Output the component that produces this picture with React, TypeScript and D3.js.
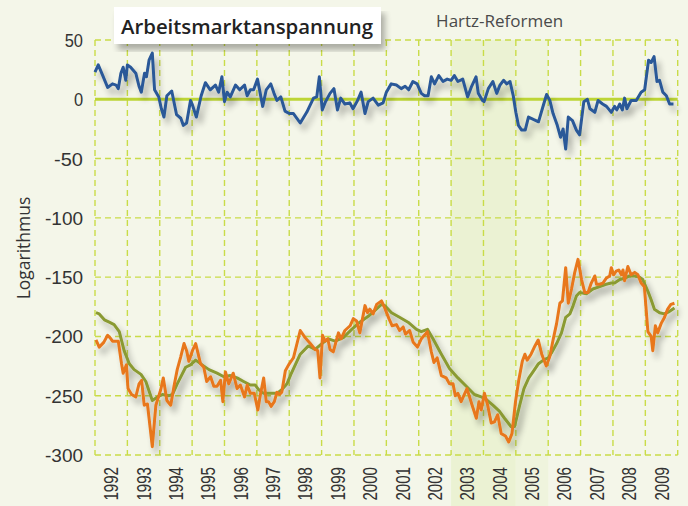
import * as d3 from 'd3';

const W = 688;
const H = 506;

const years = d3.range(1992, 2010);
const yTicks = [50, 0, -50, -100, -150, -200, -250, -300];
const hartzSpan = [2003, 2006];

// [year, value]
const blueData: [number, number][] = [
  [1992.00, 23], [1992.10, 29], [1992.24, 20], [1992.39, 10], [1992.54, 13], [1992.65, 12], [1992.72, 9],
  [1992.80, 22], [1992.87, 27], [1992.95, 16], [1993.00, 29], [1993.10, 27], [1993.26, 22], [1993.36, 11],
  [1993.43, 6], [1993.53, 22], [1993.59, 19], [1993.67, 33], [1993.77, 39], [1993.84, 8], [1993.97, 2],
  [1994.05, -8], [1994.13, -15], [1994.22, 3], [1994.37, 7], [1994.52, -13], [1994.65, -16], [1994.73, -22],
  [1994.83, -20], [1994.95, -1], [1995.00, -4], [1995.13, -15], [1995.28, 3], [1995.41, 14], [1995.56, 8],
  [1995.72, 12], [1995.82, 6], [1995.92, 19], [1996.00, -2], [1996.08, 6], [1996.18, 2], [1996.34, 12],
  [1996.47, 8], [1996.62, 12], [1996.70, 3], [1996.80, 8], [1996.90, 8], [1997.02, 17], [1997.18, -6],
  [1997.29, 8], [1997.43, 13], [1997.53, 5], [1997.62, -1], [1997.74, 2], [1997.87, -10], [1998.00, -12],
  [1998.13, -12], [1998.34, -20], [1998.54, -11], [1998.75, 1], [1998.85, 2], [1998.93, 19], [1999.02, -9],
  [1999.12, -2], [1999.26, 5], [1999.38, 9], [1999.49, -9], [1999.59, 1], [1999.72, -4], [1999.87, -3],
  [1999.97, -8], [2000.11, -1], [2000.22, 6], [2000.34, -12], [2000.44, -2], [2000.59, 1], [2000.75, -5],
  [2000.90, -3], [2001.00, 6], [2001.15, 13], [2001.31, 12], [2001.46, 9], [2001.58, 11], [2001.69, 8],
  [2001.82, 15], [2001.95, 13], [2002.08, 5], [2002.18, 3], [2002.29, 3], [2002.39, 19], [2002.49, 13],
  [2002.62, 20], [2002.75, 15], [2002.88, 17], [2003.00, 16], [2003.10, 20], [2003.21, 15], [2003.36, 17],
  [2003.51, 2], [2003.62, 10], [2003.77, 19], [2003.84, 5], [2003.97, -1], [2004.02, -2], [2004.15, 9],
  [2004.29, 15], [2004.41, 5], [2004.51, 12], [2004.62, 16], [2004.72, 13], [2004.82, 15], [2004.92, 3],
  [2005.00, -11], [2005.08, -22], [2005.18, -26], [2005.29, -26], [2005.39, -15], [2005.54, -17], [2005.70, -19],
  [2005.85, -5], [2005.95, 4], [2006.05, -1], [2006.15, -12], [2006.28, -22], [2006.38, -32], [2006.46, -25],
  [2006.54, -42], [2006.62, -15], [2006.75, -18], [2006.87, -26], [2006.97, -30], [2007.10, -2], [2007.21, 0],
  [2007.29, -8], [2007.44, -11], [2007.54, -1], [2007.68, -4], [2007.80, -6], [2007.95, -11], [2008.05, -6],
  [2008.12, -9], [2008.21, -4], [2008.29, -9], [2008.36, 1], [2008.43, -8], [2008.56, -1], [2008.72, -1],
  [2008.87, 6], [2008.98, 8], [2009.10, 33], [2009.18, 31], [2009.27, 36], [2009.36, 15], [2009.44, 16],
  [2009.54, 6], [2009.65, 3], [2009.75, -4], [2009.87, -4],
];

const orangeData: [number, number][] = [
  [1992.03, -203], [1992.13, -209], [1992.27, -205], [1992.39, -199], [1992.49, -202], [1992.54, -204],
  [1992.72, -204], [1992.82, -223], [1992.87, -231], [1992.97, -224], [1993.02, -244], [1993.13, -249],
  [1993.26, -251], [1993.36, -240], [1993.44, -237], [1993.52, -258], [1993.62, -257], [1993.77, -293],
  [1993.88, -258], [1994.03, -245], [1994.11, -235], [1994.22, -254], [1994.34, -258], [1994.44, -242],
  [1994.54, -228], [1994.65, -217], [1994.75, -206], [1994.83, -212], [1994.90, -221], [1995.01, -212],
  [1995.11, -206], [1995.26, -223], [1995.36, -226], [1995.45, -238], [1995.57, -234], [1995.67, -242],
  [1995.77, -242], [1995.88, -237], [1995.95, -255], [1996.03, -230], [1996.13, -240], [1996.27, -231],
  [1996.39, -244], [1996.49, -241], [1996.62, -251], [1996.70, -241], [1996.80, -248], [1996.92, -248],
  [1997.03, -262], [1997.11, -249], [1997.21, -235], [1997.29, -255], [1997.36, -255], [1997.44, -259],
  [1997.54, -255], [1997.62, -247], [1997.70, -249], [1997.77, -247], [1997.88, -229], [1997.98, -224],
  [1998.13, -218], [1998.34, -195], [1998.49, -201], [1998.65, -206], [1998.80, -211], [1998.88, -212],
  [1998.95, -235], [1999.03, -199], [1999.11, -204], [1999.19, -202], [1999.26, -211], [1999.36, -213],
  [1999.52, -197], [1999.60, -202], [1999.72, -195], [1999.88, -191], [1999.98, -185], [2000.08, -187],
  [2000.18, -197], [2000.34, -174], [2000.42, -180], [2000.49, -177], [2000.59, -181], [2000.70, -173],
  [2000.85, -170], [2000.95, -176], [2001.08, -185], [2001.18, -191], [2001.31, -190], [2001.41, -195],
  [2001.52, -192], [2001.59, -198], [2001.72, -195], [2001.83, -205], [2001.96, -209], [2002.08, -202],
  [2002.27, -196], [2002.39, -213], [2002.47, -222], [2002.57, -218], [2002.70, -233], [2002.85, -235],
  [2002.95, -240], [2003.06, -240], [2003.13, -250], [2003.21, -248], [2003.31, -255], [2003.49, -244],
  [2003.65, -258], [2003.78, -269], [2003.86, -255], [2003.93, -262], [2004.03, -248], [2004.13, -258],
  [2004.24, -273], [2004.34, -272], [2004.44, -266], [2004.55, -282], [2004.68, -284], [2004.78, -289],
  [2004.88, -282], [2004.99, -255], [2005.09, -237], [2005.20, -221], [2005.28, -215], [2005.35, -220],
  [2005.47, -215], [2005.59, -208], [2005.69, -203], [2005.80, -215], [2005.94, -225], [2006.05, -217],
  [2006.15, -203], [2006.26, -189], [2006.36, -172], [2006.44, -170], [2006.54, -142], [2006.62, -172],
  [2006.72, -160], [2006.82, -146], [2006.92, -135], [2007.03, -152], [2007.13, -163], [2007.23, -163],
  [2007.33, -155], [2007.44, -149], [2007.49, -156], [2007.59, -156], [2007.69, -155], [2007.79, -151],
  [2007.90, -149], [2007.95, -142], [2008.02, -148], [2008.10, -145], [2008.18, -144], [2008.26, -148],
  [2008.31, -144], [2008.36, -153], [2008.46, -141], [2008.56, -148], [2008.67, -146], [2008.77, -148],
  [2008.87, -155], [2008.97, -158], [2009.08, -196], [2009.18, -200], [2009.23, -212], [2009.31, -191],
  [2009.38, -197], [2009.49, -189], [2009.59, -184], [2009.69, -177], [2009.79, -173], [2009.90, -172],
];

const greenData: [number, number][] = [
  [1992.03, -180], [1992.13, -181], [1992.29, -186], [1992.44, -188], [1992.59, -190], [1992.75, -196],
  [1992.90, -212], [1993.06, -223], [1993.21, -228], [1993.42, -232], [1993.57, -238], [1993.77, -254],
  [1993.93, -251], [1994.08, -249], [1994.29, -250], [1994.39, -249], [1994.54, -240], [1994.80, -226],
  [1994.95, -224], [1995.11, -220], [1995.31, -224], [1995.52, -228], [1995.77, -231], [1995.98, -234],
  [1996.18, -233], [1996.39, -235], [1996.59, -238], [1996.80, -241], [1996.95, -241], [1997.06, -245],
  [1997.21, -248], [1997.42, -248], [1997.62, -248], [1997.77, -245], [1997.93, -240], [1998.05, -232],
  [1998.34, -215], [1998.59, -208], [1998.80, -211], [1999.01, -206], [1999.21, -202], [1999.42, -204],
  [1999.67, -201], [1999.93, -194], [2000.18, -188], [2000.44, -183], [2000.65, -178], [2000.85, -173],
  [2000.95, -174], [2001.16, -180], [2001.42, -184], [2001.67, -188], [2001.93, -194], [2002.08, -196],
  [2002.27, -194], [2002.44, -202], [2002.70, -215], [2002.95, -227], [2003.21, -235], [2003.47, -242],
  [2003.72, -249], [2003.93, -251], [2004.08, -253], [2004.29, -258], [2004.49, -263], [2004.65, -269],
  [2004.85, -276], [2004.96, -276], [2005.11, -259], [2005.25, -244], [2005.40, -235], [2005.55, -229],
  [2005.70, -223], [2005.85, -220], [2006.00, -218], [2006.10, -214], [2006.26, -206], [2006.41, -197],
  [2006.54, -184], [2006.67, -181], [2006.77, -174], [2006.87, -166], [2006.97, -163], [2007.18, -164],
  [2007.38, -160], [2007.59, -158], [2007.79, -156], [2007.95, -155], [2008.05, -155], [2008.21, -152],
  [2008.36, -151], [2008.51, -149], [2008.67, -149], [2008.82, -150], [2008.92, -152], [2009.08, -162],
  [2009.18, -169], [2009.28, -177], [2009.44, -180], [2009.59, -181], [2009.74, -179], [2009.90, -176],
];

const x = d3.scaleLinear([1992, 2010], [95, 677.7]);
const y = d3.scaleLinear([-300, 50], [455, 40]);

const line = d3.line<[number, number]>().x(d => x(d[0])).y(d => y(d[1]));

const grid = '#c9dc48';
const numFont = '"Liberation Sans", Arial, sans-serif';
const textFont = '"Open Sans", "Noto Sans", sans-serif';

// narrow digits like the original condensed font
const labelWidth = (s: string, size: number) =>
  s.replace('-', '').length * 0.48 * size + (s.startsWith('-') ? 0.56 * size : 0);

export default function App() {
  return (
    <svg width={W} height={H} style={{ position: 'absolute', left: 0, top: 0 }}>
      <defs>
        <filter id="shadow" x="-5%" y="-5%" width="115%" height="125%">
          <feGaussianBlur in="SourceAlpha" stdDeviation="3" />
          <feOffset dx="4" dy="6" result="b" />
          <feComponentTransfer>
            <feFuncA type="linear" slope="0.3" />
          </feComponentTransfer>
          <feMerge>
            <feMergeNode />
            <feMergeNode in="SourceGraphic" />
          </feMerge>
        </filter>
      </defs>
      <rect width={W} height={H} fill="#f4f6e9" />

      {/* Hartz-Reformen band */}
      <rect x={x(hartzSpan[0])} y={y(50)} width={x(2005) - x(hartzSpan[0])} height={H - y(50)} fill="#ebf2d3" />
      <rect x={x(2005)} y={y(50)} width={x(hartzSpan[1]) - x(2005)} height={H - y(50)} fill="#eff4dd" />
      <text x={(x(hartzSpan[0]) + x(hartzSpan[1])) / 2} y={27} textAnchor="middle"
        fontFamily={textFont} fontSize={17} fill="#4a4a4a">Hartz-Reformen</text>

      {/* grid */}
      {years.concat([2010]).map(yr => (
        <line key={yr} x1={x(yr)} x2={x(yr)} y1={y(50)} y2={y(-300)}
          stroke={grid} strokeWidth={1.4} strokeDasharray="6,4" />
      ))}
      {yTicks.filter(v => v !== 0).map(v => (
        <line key={v} x1={x(1992)} x2={x(2010)} y1={y(v)} y2={y(v)}
          stroke={grid} strokeWidth={1.4} strokeDasharray="6,4" />
      ))}
      <line x1={x(1992)} x2={x(2010)} y1={y(0)} y2={y(0)} stroke="#bdd535" strokeWidth={3} />

      {/* y ticks */}
      {yTicks.map(v => {
        const s = String(v);
        return (
          <text key={v} x={83} y={y(v) + 7} textAnchor="end" fontFamily={numFont} fontSize={19}
            fill="#333" textLength={labelWidth(s, 19)} lengthAdjust="spacingAndGlyphs">{s}</text>
        );
      })}
      <text transform="translate(30,248) rotate(-90)" textAnchor="middle"
        fontFamily={textFont} fontSize={17.5} fill="#333">Logarithmus</text>

      {/* x labels */}
      {years.map(yr => (
        <text key={yr} transform={`translate(${x(yr + 0.5) + 7},467) rotate(-90)`} textAnchor="end"
          fontFamily={numFont} fontSize={20} fill="#333"
          textLength={labelWidth(String(yr), 17.5)} lengthAdjust="spacingAndGlyphs">{yr}</text>
      ))}

      {/* series */}
      <g filter="url(#shadow)" fill="none" strokeWidth={3} strokeLinejoin="round">
        <path d={line(greenData) ?? ''} stroke="#8a9a33" />
        <path d={line(orangeData) ?? ''} stroke="#e8771d" />
        <path d={line(blueData) ?? ''} stroke="#2a5898" />
      </g>

      {/* title box */}
      <g filter="url(#shadow)">
        <rect x={114} y={7} width={267} height={37} fill="#fff" />
      </g>
      <text x={121} y={34} fontFamily={textFont} fontWeight={600} fontSize={20} fill="#222"
        textLength={252} lengthAdjust="spacingAndGlyphs">Arbeitsmarktanspannung</text>
    </svg>
  );
}
